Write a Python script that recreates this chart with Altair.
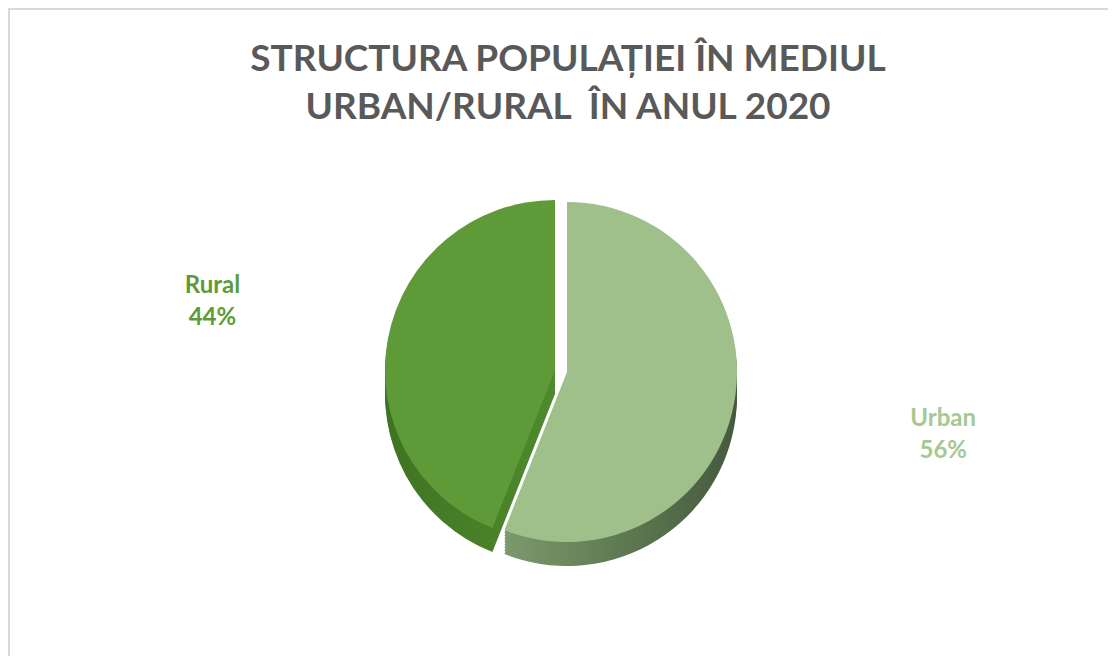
import altair as alt
import pandas as pd

# ---- data ----
categories = ["Urban", "Rural"]
values = [56, 44]
order = [0, 1]
title_lines = ["STRUCTURA POPULAȚIEI ÎN MEDIUL", "URBAN/RURAL \u00a0ÎN ANUL 2020"]

df = pd.DataFrame({"category": categories, "value": values, "ord": order})

W, H = 1100, 648
CX, CY = 559, 364          # pie centre (group coordinates)
R = 170
DEPTHS = [24, 21, 18, 15, 12, 9, 6, 3]
RURAL_DX, RURAL_DY = -12, -2

top_colors = {"Urban": "#a0c08b", "Rural": "#5f9a38"}
label_colors = {"Urban": "#a6c892", "Rural": "#5f9a38"}
side_grad = {
    "Urban": alt.LinearGradient(gradient="linear", x1=0, x2=1, y1=0, y2=0,
                                stops=[alt.GradientStop(color="#7c9a6d", offset=0),
                                       alt.GradientStop(color="#5e7a52", offset=0.5),
                                       alt.GradientStop(color="#46593f", offset=1)]),
    "Rural": alt.LinearGradient(gradient="linear", x1=0, x2=1, y1=0, y2=0,
                                stops=[alt.GradientStop(color="#3f7322", offset=0),
                                       alt.GradientStop(color="#4f8a2d", offset=1)]),
}

base = (
    alt.Chart(df)
    .transform_window(cum="sum(value)", sort=[alt.SortField("ord")])
    .transform_calculate(
        start="datum.cum - datum.value",
        mid="datum.cum - datum.value / 2",
        label="datum.category + '\\n' + datum.value + '%'",
    )
)

theta_scale = alt.Scale(domain=[0, 100], range=[0, 6.283185307])


def arc(cat, color, dy_extra=0):
    dx = RURAL_DX if cat == "Rural" else 0
    dy = (RURAL_DY if cat == "Rural" else 0) + dy_extra
    return (
        base.transform_filter(alt.datum.category == cat)
        .mark_arc(radius=R, color=color, xOffset=dx, yOffset=dy)
        .encode(
            theta=alt.Theta("start:Q", scale=theta_scale),
            theta2=alt.Theta2("cum:Q"),
            x=alt.value(CX),
            y=alt.value(CY),
        )
    )


def label(cat, radius, dy):
    return (
        base.transform_filter(alt.datum.category == cat)
        .mark_text(radius=radius, font="Lato", fontWeight="bold", fontSize=24,
                   lineBreak="\n", lineHeight=32, align="center", baseline="middle",
                   color=label_colors[cat], dy=dy)
        .encode(
            theta=alt.Theta("mid:Q", scale=theta_scale),
            text="label:N",
            x=alt.value(CX),
            y=alt.value(CY),
        )
    )


layers = []
for d in DEPTHS:
    layers.append(arc("Rural", side_grad["Rural"], d))
    layers.append(arc("Urban", side_grad["Urban"], d))
layers.append(arc("Rural", top_colors["Rural"]))
layers.append(arc("Urban", top_colors["Urban"]))
layers.append(label("Rural", 361, -18))
layers.append(label("Urban", 383, -25))

title = (
    alt.Chart(alt.Data(values=[{"t": "\n".join(title_lines)}]))
    .mark_text(font="Lato", fontWeight="bold", fontSize=37, color="#595959",
               lineBreak="\n", lineHeight=48, align="center", baseline="alphabetic")
    .encode(text="t:N", x=alt.value(560), y=alt.value(63))
)

frame = alt.Chart(alt.Data(values=[{}]))
left_rule = frame.mark_rule(color="#d9d9d9", strokeWidth=2).encode(
    x=alt.value(1), y=alt.value(0), y2=alt.value(H))
top_rule = frame.mark_rule(color="#d9d9d9", strokeWidth=2).encode(
    x=alt.value(0), x2=alt.value(W), y=alt.value(1))

chart = (
    alt.layer(left_rule, top_rule, *layers, title)
    .properties(width=W, height=H, autosize=alt.AutoSizeParams(type="none"), padding=0,
                background="white")
    .configure_view(stroke=None)
)

chart.save("out.html", embed_options={"renderer": "svg", "actions": False})
